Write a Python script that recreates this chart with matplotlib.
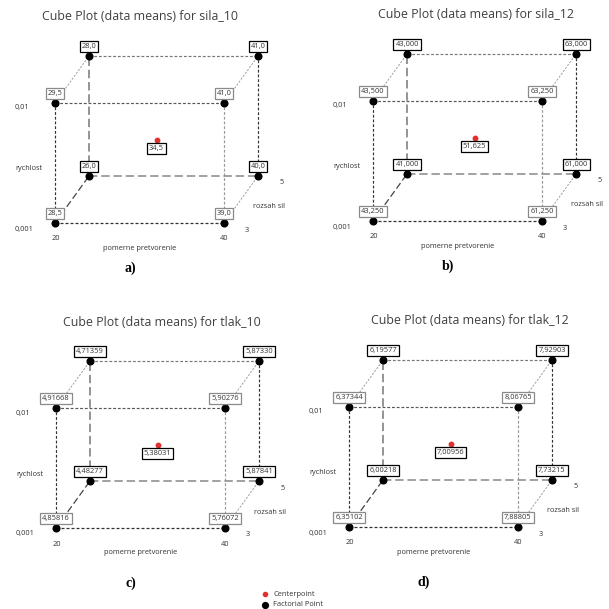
import matplotlib.pyplot as plt

plt.rcParams['font.family'] = ['Open Sans', 'DejaVu Sans']

# factor levels
pretvorenie = [20, 40]
rychlost = ['0,001', '0,01']
rozsah = [3, 5]

# cube corner means, order: (x, y, z) for z in rozsah, y in rychlost, x in pretvorenie
sila_10 = [28.5, 39.0, 29.5, 41.0, 26.0, 40.0, 28.0, 41.0]
sila_12 = [43.250, 61.250, 43.500, 63.250, 41.000, 61.000, 43.000, 63.000]
tlak_10 = [4.85816, 5.76072, 4.91668, 5.90276, 4.48277, 5.87841, 4.71359, 5.87330]
tlak_12 = [6.35102, 7.88805, 6.37344, 8.06765, 6.00218, 7.73215, 6.19577, 7.92903]
centers = [34.5, 51.625, 5.38031, 7.00956]
names = ['sila_10', 'sila_12', 'tlak_10', 'tlak_12']
decimals = [1, 3, 5, 5]
letters = ['a)', 'b)', 'c)', 'd)']

# panel layout (pixels): front-bottom-left corner, title centre
origins = [(55, 223), (373, 221), (56, 528), (349, 527)]
title_x = [140, 476, 162, 470]
W, H, DX, DY = 169, 120, 34, 47

fig = plt.figure(figsize=(6.09, 6.09), dpi=100)
ax = fig.add_axes([0, 0, 1, 1])
ax.set_xlim(0, 609)
ax.set_ylim(609, 0)
ax.axis('off')

short = (0, (2.4, 1.6))
long_ = (0, (5.5, 2.5))
# edges: (corner a, corner b, linestyle, color, width)
edges = [
    ((0, 0, 0), (1, 0, 0), short, '#333333', 0.9),
    ((0, 1, 0), (1, 1, 0), short, '#555555', 0.85),
    ((0, 0, 0), (0, 1, 0), short, '#333333', 0.85),
    ((1, 0, 0), (1, 1, 0), short, '#999999', 0.85),
    ((0, 1, 1), (1, 1, 1), short, '#777777', 0.85),
    ((0, 0, 1), (1, 0, 1), long_, '#888888', 1.1),
    ((0, 0, 1), (0, 1, 1), long_, '#777777', 1.1),
    ((1, 0, 1), (1, 1, 1), short, '#333333', 0.85),
    ((0, 0, 0), (0, 0, 1), long_, '#444444', 0.9),
    ((1, 0, 0), (1, 0, 1), short, '#999999', 0.65),
    ((0, 1, 0), (0, 1, 1), short, '#999999', 0.65),
    ((1, 1, 0), (1, 1, 1), short, '#999999', 0.65),
]


def proj(o, xc, yc, zc):
    return o[0] + xc * W + zc * DX, o[1] - yc * H - zc * DY


def fmt(v, d):
    return f'{v:.{d}f}'.replace('.', ',')


for i, vals in enumerate([sila_10, sila_12, tlak_10, tlak_12]):
    o = origins[i]
    for a, b, ls, c, lw in edges:
        p, q = proj(o, *a), proj(o, *b)
        ax.plot([p[0], q[0]], [p[1], q[1]], ls=ls, color=c, lw=lw, zorder=1)
    k = 0
    for zi, z in enumerate(rozsah):
        for yi, y in enumerate(rychlost):
            for xi, x in enumerate(pretvorenie):
                px, py = proj(o, (x - 20) / 20, yi, (z - 3) / 2)
                ax.plot(px, py, 'o', color='black', ms=4.8, zorder=3)
                ec = 'black' if zi == 1 else '#8a8a8a'
                ax.text(px, py - 9.5, fmt(vals[k], decimals[i]), ha='center', va='center',
                        fontsize=5.4, color='#333333', zorder=4,
                        bbox=dict(boxstyle='square,pad=0.25', fc='white', ec=ec, lw=0.9))
                k += 1
    cx, cy = proj(o, 0.5, 0.5, 0.5)
    ax.plot(cx, cy, 'o', color='#e03030', ms=3.2, zorder=3)
    ax.text(cx, cy + 9, fmt(centers[i], decimals[i]), ha='center', va='center',
            fontsize=5.4, color='#333333', zorder=4,
            bbox=dict(boxstyle='square,pad=0.25', fc='white', ec='black', lw=0.9))

    ax.text(title_x[i], o[1] - 206, 'Cube Plot (data means) for ' + names[i],
            ha='center', va='center', fontsize=8.9, color='#404040')
    fs = 5.3
    ax.text(o[0] - 40, o[1] - 115, rychlost[1], ha='left', va='center', fontsize=fs, color='#333333')
    ax.text(o[0] - 40, o[1] + 6, rychlost[0], ha='left', va='center', fontsize=fs, color='#333333')
    ax.text(o[0] - 40, o[1] - 54, 'rychlost', ha='left', va='center', fontsize=fs, color='#333333')
    ax.text(o[0] + 1, o[1] + 16, str(pretvorenie[0]), ha='center', va='center', fontsize=fs, color='#333333')
    ax.text(o[0] + W, o[1] + 16, str(pretvorenie[1]), ha='center', va='center', fontsize=fs, color='#333333')
    ax.text(o[0] + 85, o[1] + 25, 'pomerne pretvorenie', ha='center', va='center', fontsize=fs, color='#333333')
    ax.text(o[0] + 227, o[1] - 40, str(rozsah[1]), ha='center', va='center', fontsize=fs, color='#333333')
    ax.text(o[0] + 192, o[1] + 7, str(rozsah[0]), ha='center', va='center', fontsize=fs, color='#333333')
    ax.text(o[0] + 214, o[1] - 16, 'rozsah sil', ha='center', va='center', fontsize=fs, color='#333333')
    ax.text(o[0] + 75, o[1] + (45 if i < 2 else 55), letters[i], ha='center', va='center',
            fontsize=10, fontweight='bold', family='Liberation Serif')

# legend
ax.plot(265, 594, 'o', color='#e03030', ms=3)
ax.plot(265, 605, 'o', color='black', ms=4.2)
ax.text(273, 594, 'Centerpoint', ha='left', va='center', fontsize=5.4, color='#333333')
ax.text(273, 605, 'Factorial Point', ha='left', va='center', fontsize=5.4, color='#333333')

fig.savefig('out.png', dpi=100)
